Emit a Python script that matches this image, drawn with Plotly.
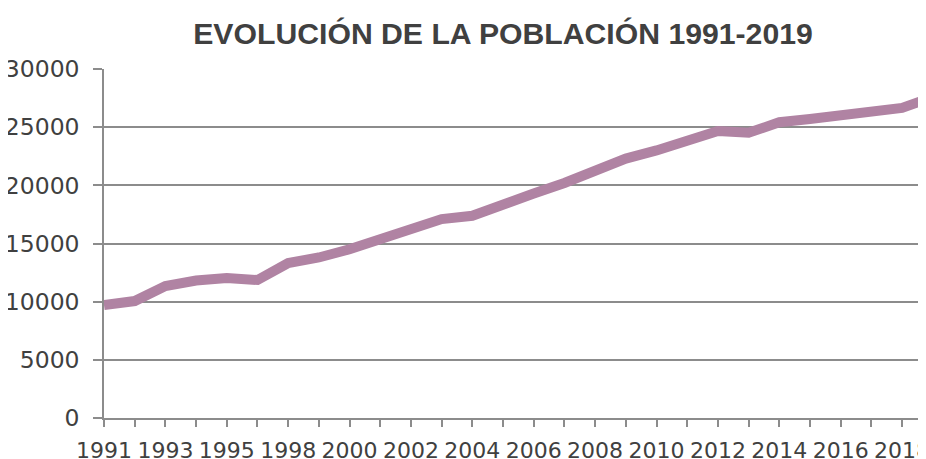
import plotly.graph_objects as go

years = ["1991", "1992", "1993", "1994", "1995", "1996", "1998", "1999", "2000", "2001",
         "2002", "2003", "2004", "2005", "2006", "2007", "2008", "2009", "2010", "2011",
         "2012", "2013", "2014", "2015", "2016", "2017", "2018", "2019"]
population = [9700, 10050, 11350, 11820, 12030, 11860, 13320, 13800, 14500, 15300,
              16150, 17100, 17380, 18450, 19300, 20200, 21350, 22300, 23000, 23880,
              24670, 24520, 25420, 25700, 25950, 26300, 26650, 27600]
tick_labels = [y if i % 2 == 0 else "" for i, y in enumerate(years)]
y_ticks = [0, 5000, 10000, 15000, 20000, 25000, 30000]
y_tick_text = [str(v) for v in y_ticks]

TICK_FONT = "DejaVu Sans, sans-serif"
GRID = "#8c8c8c"

# page body has an 8px margin, so figure coordinates are offset by 8px
fig = go.Figure()
fig.add_trace(go.Scatter(
    x=years, y=population, mode="lines",
    line=dict(color="#b083a3", width=10),
    hoverinfo="x+y", showlegend=False,
))

fig.update_layout(
    width=918, height=451,
    margin=dict(l=96, r=0, t=61, b=41),
    paper_bgcolor="white", plot_bgcolor="white",
    title=dict(
        text="EVOLUCIÓN DE LA POBLACIÓN 1991-2019",
        x=495 / 918, xanchor="center", xref="container",
        y=1 - 25 / 451, yanchor="middle", yref="container",
        font=dict(family="Liberation Sans, sans-serif", size=30.2, color="#404040", weight="bold"),
    ),
    xaxis=dict(
        type="category",
        automargin=False,
        range=[0, 26.78],
        tickmode="array", tickvals=years, ticktext=tick_labels,
        ticks="outside", ticklen=7, tickwidth=1.5, tickcolor=GRID,
        showline=True, linecolor=GRID, linewidth=1.5,
        showgrid=False, zeroline=False,
        tickfont=dict(family=TICK_FONT, size=22, color="#404040"),
        tickangle=0,
        ticklabelstandoff=5,
    ),
    yaxis=dict(
        automargin=False,
        range=[0, 30000],
        tickmode="array", tickvals=y_ticks, ticktext=y_tick_text,
        ticks="outside", ticklen=9, tickwidth=1.5, tickcolor=GRID,
        showline=True, linecolor=GRID, linewidth=1.5,
        showgrid=True, gridcolor=GRID, gridwidth=1.5,
        zeroline=False,
        tickfont=dict(family=TICK_FONT, size=23.5, color="#404040"),
        ticklabelstandoff=9,
    ),
)

fig.write_html("out.html")
